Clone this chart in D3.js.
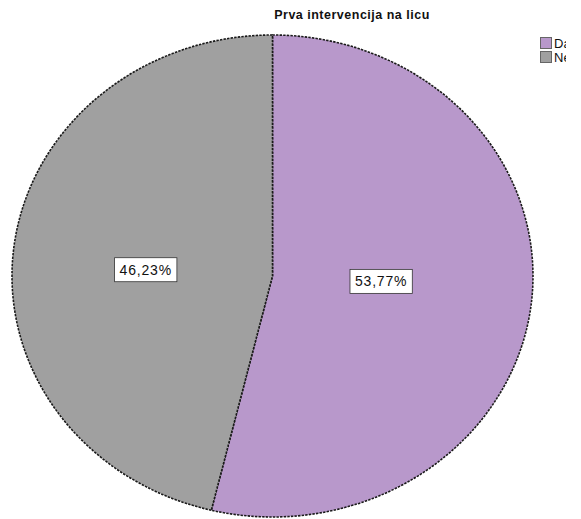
<!DOCTYPE html>
<html>
<head>
<meta charset="utf-8">
<script src="https://cdn.jsdelivr.net/npm/d3@7"></script>
<style>
  html, body { margin: 0; padding: 0; background: #fff; }
  svg { display: block; }
</style>
</head>
<body>
<svg id="chart" width="581" height="519"></svg>
<script>
// Pie of "Prva intervencija na licu" (Da / Ne)
const title = "Prva intervencija na licu";
const categories = ["Da", "Ne"];
const values = [53.77, 46.23];
const labels = ["53,77%", "46,23%"];
const colors = ["#b898cb", "#a0a0a0"];

const svg = d3.select("#chart");

// elliptical pie: centre and radii
const cx = 272.5, cy = 276, rx = 260.5, ry = 241;
// how far out each label sits, as a fraction of the radius
const labelRadius = [0.42, 0.49];

const pie = d3.pie().sort(null).value(d => d.v);
const arcs = pie(categories.map((c, i) => ({ c, v: values[i], i })));
const arc = d3.arc().innerRadius(0).outerRadius(1);

// draw unit circle, stretched into an ellipse
const g = svg.append("g")
  .attr("transform", `translate(${cx},${cy}) scale(${rx},${ry})`);

g.selectAll("path.slice")
  .data(arcs)
  .join("path")
  .attr("class", "slice")
  .attr("d", arc)
  .attr("fill", d => colors[d.data.i])
  .attr("stroke", "#1a1a1a")
  .attr("stroke-width", 1.6)
  .attr("stroke-dasharray", "2.4 1.2")
  .attr("vector-effect", "non-scaling-stroke");

// percentage labels in white boxes, kept close to the horizontal axis
const lg = svg.append("g");
arcs.forEach(d => {
  const r = labelRadius[d.data.i];
  const [ux, uy] = d3.arc().innerRadius(r).outerRadius(r).centroid(d);
  const x = cx + ux * rx, y = cy + uy * ry * 0.45;
  const t = lg.append("text")
    .attr("x", x).attr("y", y)
    .attr("text-anchor", "middle")
    .attr("dominant-baseline", "central")
    .attr("font-family", "Liberation Sans, Arial, sans-serif")
    .attr("font-size", 14)
    .attr("letter-spacing", 0.8)
    .attr("fill", "#111")
    .text(labels[d.data.i]);
  const b = t.node().getBBox();
  lg.insert("rect", "text")
    .attr("x", b.x - 5).attr("y", b.y - 4)
    .attr("width", b.width + 10).attr("height", b.height + 8)
    .attr("fill", "#fff")
    .attr("stroke", "#333")
    .attr("stroke-width", 0.8);
});

// title
svg.append("text")
  .attr("x", 352).attr("y", 19)
  .attr("text-anchor", "middle")
  .attr("font-family", "Liberation Sans, Arial, sans-serif")
  .attr("font-size", 12.5)
  .attr("font-weight", "bold")
  .attr("letter-spacing", 0.5)
  .attr("fill", "#111")
  .text(title);

// legend (clipped at the right)
svg.append("clipPath").attr("id", "legclip")
  .append("rect").attr("x", 530).attr("y", 30).attr("width", 36).attr("height", 40);
const leg = svg.append("g").attr("clip-path", "url(#legclip)");
categories.forEach((c, i) => {
  const y = 37 + i * 14;
  leg.append("rect")
    .attr("x", 540.5).attr("y", y + 0.5)
    .attr("width", 11).attr("height", 11)
    .attr("fill", colors[i])
    .attr("stroke", "#666").attr("stroke-width", 1);
  leg.append("text")
    .attr("x", 554).attr("y", y + 11)
    .attr("font-family", "Liberation Sans, Arial, sans-serif")
    .attr("font-size", 13)
    .attr("fill", "#111")
    .text(c);
});
</script>
</body>
</html>
